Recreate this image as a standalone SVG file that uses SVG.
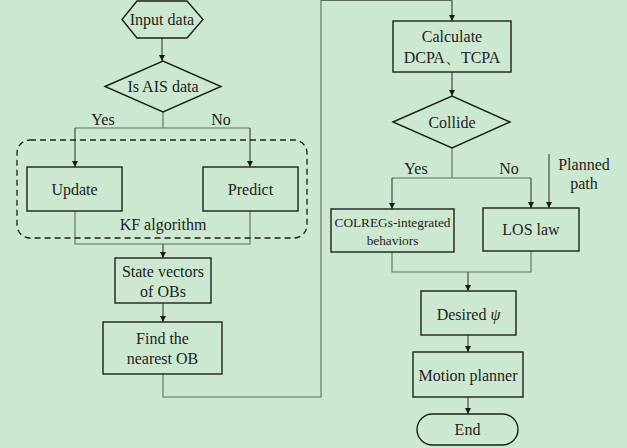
<svg xmlns="http://www.w3.org/2000/svg" width="627" height="448" viewBox="0 0 627 448">
<defs>
<marker id="arr" viewBox="0 0 6 6" refX="6" refY="3" markerWidth="6" markerHeight="6" markerUnits="userSpaceOnUse" orient="auto">
<path d="M0,0 L6,3 L0,6 Z" fill="#1a1a1a"/>
</marker>
<style>
.box{fill:none;stroke:#1e1e1e;stroke-width:1.4}
.con{fill:none;stroke:#5d6b5f;stroke-width:1.1}
.ar{fill:none;stroke:#3a3a3a;stroke-width:1.1;marker-end:url(#arr)}
text{font-family:"Liberation Serif","Times New Roman",serif;font-size:16px;fill:#222;text-anchor:middle}
.sm{font-size:13.3px}
</style>
</defs>
<rect width="627" height="448" fill="#cde8d1"/>

<g id="connectors">
<line class="ar" x1="162" y1="38" x2="162" y2="61"/>
<polyline class="con" points="163,112 163,128"/>
<polyline class="con" points="75,128 250,128"/>
<line class="ar" x1="75" y1="128" x2="75" y2="167"/>
<line class="ar" x1="250" y1="128" x2="250" y2="167"/>
<polyline class="con" points="75,211 75,244 250,244 250,211"/>
<line class="ar" x1="163" y1="244" x2="163" y2="258"/>
<line class="ar" x1="163" y1="303" x2="163" y2="322"/>
<polyline class="con" points="163,374 163,397 321,397 321,0.5 452,0.5"/>
<line class="ar" x1="452" y1="0.5" x2="452" y2="21"/>
<line class="ar" x1="452" y1="72" x2="452" y2="96"/>
<polyline class="con" points="452,148 452,178"/>
<polyline class="con" points="392,178 531,178"/>
<line class="ar" x1="392" y1="178" x2="392" y2="209"/>
<line class="ar" x1="531" y1="178" x2="531" y2="208"/>
<line class="ar" x1="549" y1="154" x2="549" y2="208"/>
<polyline class="con" points="392,252 392,272 531,272 531,251"/>
<line class="ar" x1="468" y1="272" x2="468" y2="291"/>
<line class="ar" x1="468" y1="335" x2="468" y2="352"/>
<line class="ar" x1="468" y1="397" x2="468" y2="414"/>
</g>

<g id="labels">
<text x="103" y="125">Yes</text>
<text x="221" y="125">No</text>
<text x="416" y="174">Yes</text>
<text x="509" y="174">No</text>
<text x="584" y="170">Planned</text>
<text x="584" y="189">path</text>
</g>

<g id="kf-group">
<rect x="17" y="140" width="290" height="98" rx="13" fill="none" stroke="#1e1e1e" stroke-width="1.3" stroke-dasharray="6,4"/>
<text x="163" y="230">KF algorithm</text>
</g>

<g id="input">
<polygon class="box" points="122,19.5 137,1 187,1 203,19.5 187,38 137,38"/>
<text x="162" y="25">Input data</text>
</g>

<g id="is-ais">
<polygon class="box" points="105,86.5 163,61 221,86.5 163,112"/>
<text x="163" y="92">Is AIS data</text>
</g>

<g id="update">
<rect class="box" x="27" y="167" width="95" height="44"/>
<text x="74.5" y="195">Update</text>
</g>

<g id="predict">
<rect class="box" x="203" y="167" width="95" height="44"/>
<text x="250.5" y="195">Predict</text>
</g>

<g id="state">
<rect class="box" x="115" y="258" width="96" height="45"/>
<text x="163" y="277">State vectors</text>
<text x="163" y="297">of OBs</text>
</g>

<g id="find">
<rect class="box" x="103" y="322" width="119" height="52"/>
<text x="162.5" y="344">Find the</text>
<text x="162.5" y="364">nearest OB</text>
</g>

<g id="calculate">
<rect class="box" x="393" y="21" width="118" height="51"/>
<text x="452" y="42">Calculate</text>
<text x="452" y="63">DCPA、TCPA</text>
</g>

<g id="collide">
<polygon class="box" points="393,122 452,96 510,122 452,148"/>
<text x="452" y="128">Collide</text>
</g>

<g id="colregs">
<rect class="box" x="331" y="209" width="123" height="43"/>
<text class="sm" x="392.5" y="227">COLREGs-integrated</text>
<text class="sm" x="392.5" y="245">behaviors</text>
</g>

<g id="los">
<rect class="box" x="483" y="208" width="96" height="43"/>
<text x="531" y="235">LOS law</text>
</g>

<g id="desired">
<rect class="box" x="421" y="291" width="95" height="44"/>
<text x="468.5" y="320">Desired <tspan font-style="italic">ψ</tspan></text>
</g>

<g id="motion">
<rect class="box" x="413" y="352" width="110" height="45"/>
<text x="468" y="381">Motion planner</text>
</g>

<g id="end">
<rect class="box" x="417" y="414" width="101" height="31" rx="15.5"/>
<text x="467.5" y="435">End</text>
</g>
</svg>
